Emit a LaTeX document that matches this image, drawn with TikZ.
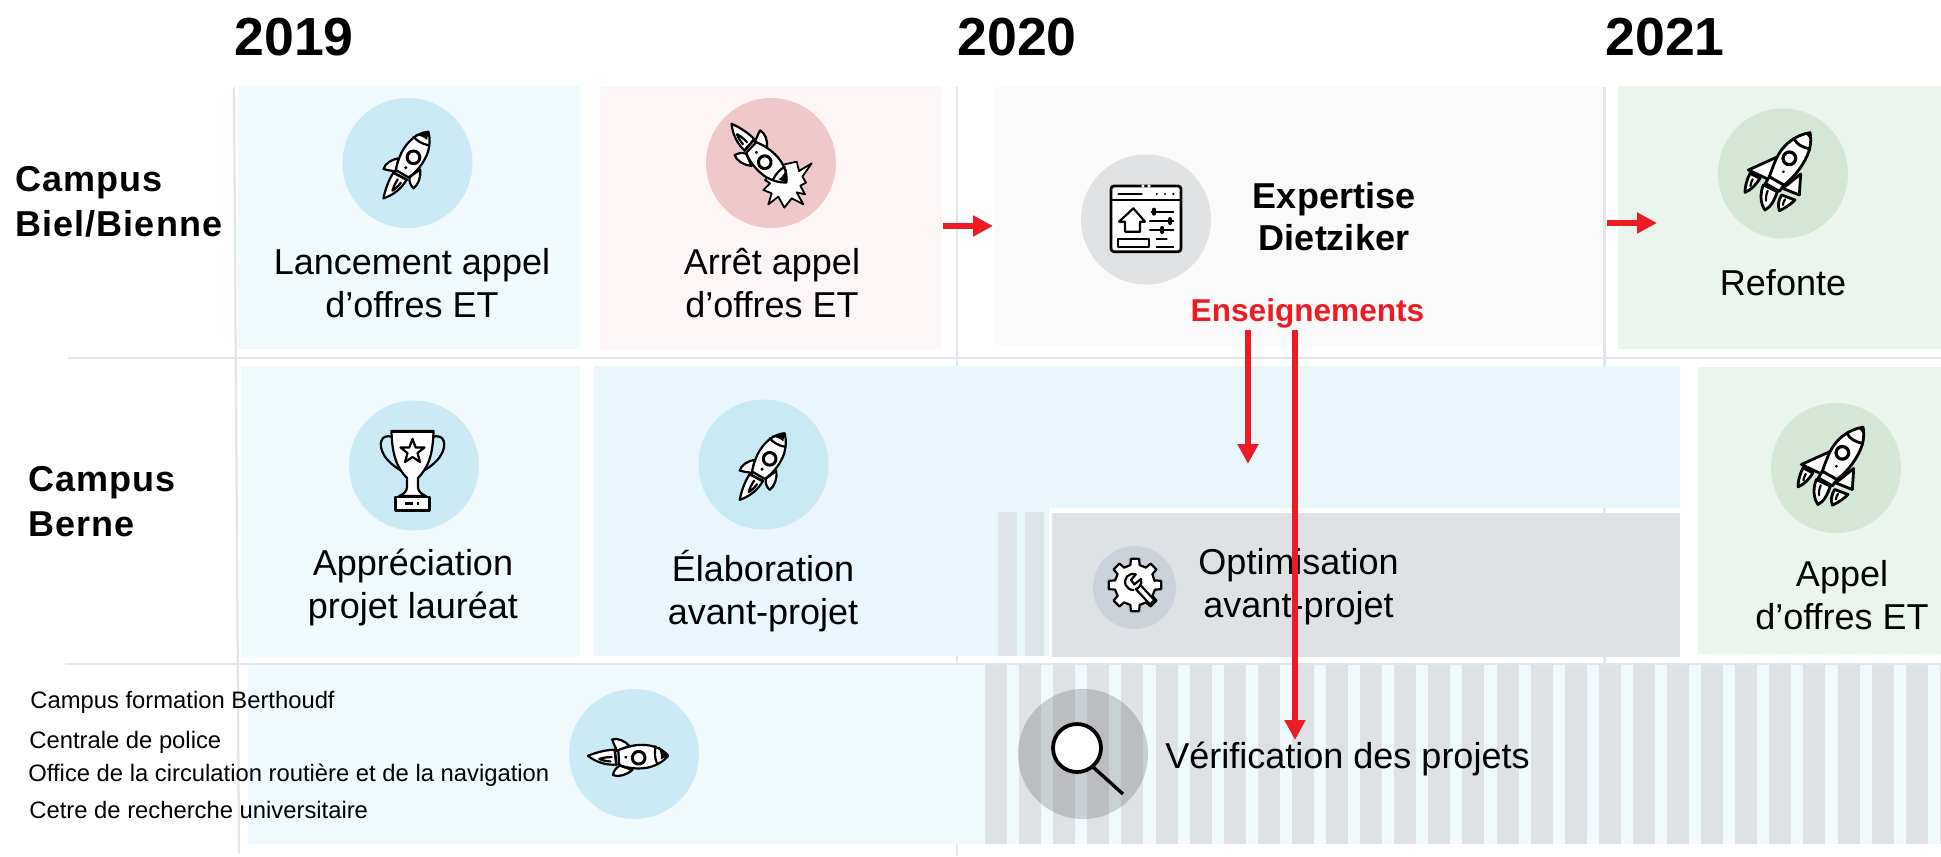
\documentclass[tikz,border=0pt]{standalone}
\usepackage{fontspec}
\setmainfont{Liberation Sans}
\newfontfamily\spacedfont[LetterSpace=3]{Liberation Sans}
\usetikzlibrary{arrows.meta}
\definecolor{gridc}{HTML}{E3E5E8}
\definecolor{boxblue}{HTML}{F0F9FC}
\definecolor{boxblueb}{HTML}{E9F6FC}
\definecolor{boxpink}{HTML}{FCF6F7}
\definecolor{boxlight}{HTML}{FAFAFA}
\definecolor{boxgreen}{HTML}{ECF4EE}
\definecolor{boxgrey}{HTML}{DFE2E5}
\definecolor{stripeb}{HTML}{DFE4E8}
\definecolor{cblue}{HTML}{CCEAF6}
\definecolor{cblueb}{HTML}{C9E9F5}
\definecolor{cpink}{HTML}{EFC8CC}
\definecolor{cgrey}{HTML}{E0E2E4}
\definecolor{cgreen}{HTML}{D4E6D6}
\definecolor{copt}{HTML}{CCD2D9}
\definecolor{redc}{HTML}{ED1C24}
\tikzset{
  x=0.5pt,y=-0.5pt,
  gridline/.style={draw=gridc,line width=1.15pt},
  iconcirc/.style={circle,inner sep=0pt,minimum size=65pt},
  label18/.style={font=\fontsize{18}{21.4}\selectfont,align=center,inner sep=0pt,anchor=base},
  labelb/.style={font=\fontsize{18}{21}\selectfont\bfseries,align=center,inner sep=0pt,anchor=base},
  sidelabel/.style={font=\fontsize{18}{22.5}\selectfont\spacedfont\bfseries,align=left,inner sep=0pt,anchor=base west},
  yearlabel/.style={font=\fontsize{26.8}{30}\selectfont\bfseries,inner sep=0pt,anchor=base west},
  smalllabel/.style={font=\fontsize{11.9}{14}\selectfont,inner sep=0pt,anchor=base west},
  redarrow/.style={draw=redc,line width=3.1pt,-{Triangle[length=10pt,width=10pt]}},
  ink/.style={draw=black,line width=1.1pt,line join=round,line cap=round},
  inkfill/.style={ink,fill=white},
  inkb/.style={draw=black,line width=1.4pt,line join=round,line cap=round},
  inkbfill/.style={inkb,fill=white},
  pics/rocketA/.style={code={
    \begin{scope}[shift={(-122,-135)}]
      % fins
      \draw[inkfill] (100,115) .. controls (80,118) and (60,130) .. (55,147) .. controls (70,152) and (85,152) .. (92,155) -- cycle;
      \draw[inkfill] (165,148) .. controls (168,170) and (160,195) .. (145,205) .. controls (135,195) and (132,185) .. (133,172) -- cycle;
      % flame
      \draw[inkfill] (85,158) .. controls (70,180) and (60,210) .. (55,235) .. controls (85,225) and (110,205) .. (125,178) -- cycle;
      \draw[ink] (98,178) .. controls (90,190) and (85,200) .. (82,212) .. controls (92,205) and (100,198) .. (107,188);
      % body
      \draw[inkfill] (190,35) .. controls (155,38) and (125,65) .. (108,100) .. controls (100,118) and (95,135) .. (92,150) -- (130,172) .. controls (150,160) and (172,135) .. (185,105) .. controls (195,80) and (195,55) .. (190,35) -- cycle;
      \fill[black] (190,35) -- (150,43) .. controls (165,48) and (180,52) .. (186,60) -- cycle;
      \draw[ink] (145,50) .. controls (155,62) and (170,72) .. (191,76);
      \draw[ink,line width=1.5pt] (145,112) circle[radius=19];
      \fill[black] (122,143) circle[radius=5];
      \draw[ink] (84,158) -- (125,180);
    \end{scope}
  }},
  pics/rocketB/.style={code={
    % side fins
    \draw[inkbfill] (118,108) -- (25,150) -- (85,178) -- cycle;
    \draw[inkbfill] (182,162) -- (178,225) -- (128,205) -- cycle;
    % flames
    \draw[inkbfill] (30,160) .. controls (20,180) and (15,200) .. (15,217) .. controls (35,210) and (50,190) .. (60,175) -- cycle;
    \draw[ink] (38,178) .. controls (34,186) and (32,192) .. (31,198);
    \draw[inkbfill] (70,195) .. controls (60,220) and (60,250) .. (75,270) .. controls (95,260) and (105,235) .. (112,215) -- cycle;
    \draw[ink] (83,212) .. controls (78,225) and (77,235) .. (78,242);
    \draw[inkbfill] (125,225) .. controls (115,240) and (113,255) .. (118,272) .. controls (140,262) and (155,250) .. (165,240) -- cycle;
    \draw[ink] (135,238) .. controls (130,245) and (129,250) .. (129,255);
    % band
    \draw[inkbfill] (88,170) -- (132,195) -- (118,214) -- (76,190) -- cycle;
    % body
    \draw[inkbfill] (210,38) .. controls (165,45) and (125,75) .. (105,125) .. controls (98,142) and (92,158) .. (88,170) -- (132,195) .. controls (165,170) and (195,130) .. (208,90) .. controls (213,70) and (213,52) .. (210,38) -- cycle;
    \fill[black] (210,38) -- (196,41) -- (212,58) -- cycle;
    \draw[inkb] (163,58) .. controls (170,72) and (185,82) .. (208,86);
    \draw[inkb,line width=1.6pt] (148,115) circle[radius=19];
    \fill[black] (130,155) circle[radius=4.5];
  }}
}
\begin{document}
\begin{tikzpicture}
\useasboundingbox (0,0) rectangle (1941,856);
% grid lines
\draw[gridline] (234,87) -- (239,853);
\draw[gridline] (957,87) -- (957,856);
\draw[gridline] (1604.5,87) -- (1604.5,664);
\draw[gridline] (68,358) -- (1941,358);
\draw[gridline] (65,664) -- (1941,664);
% row 1 boxes
\fill[boxblue] (238,86) rectangle (581,349);
\fill[boxpink] (600,86) rectangle (942,349);
\fill[boxlight] (994,87) rectangle (1603,345);
\fill[boxgreen] (1618,86) rectangle (1941,349);
% row 2 boxes
\fill[boxblue] (241,366) rectangle (580,657);
\fill[boxblueb] (594,366) rectangle (1680,508);
\fill[boxblueb] (594,508) rectangle (1049,656);
\fill[stripeb] (998,512) rectangle (1017,656);
\fill[stripeb] (1025,512) rectangle (1044,656);
\fill[boxgrey] (1052,513) rectangle (1680,657);
\fill[boxgreen] (1698,367) rectangle (1941,654);
% row 3 boxes
\fill[boxblue] (248,665) rectangle (1941,844);
\foreach \k in {0,...,28} { \fill[boxgrey] ({985+34.1*\k},665) rectangle ({min(1941,1007+34.1*\k)},844); }
% circles
\node[iconcirc,fill=cblue] (c1) at (407.5,163) {};
\node[iconcirc,fill=cpink] (c2) at (771,163) {};
\node[iconcirc,fill=cgrey] (c3) at (1146,219.5) {};
\node[iconcirc,fill=cgreen] (c4) at (1783,173.5) {};
\node[iconcirc,fill=cblue] (c5) at (414,465.5) {};
\node[iconcirc,fill=cblueb] (c6) at (763.5,464.5) {};
\node[circle,inner sep=0pt,minimum size=41.5pt,fill=copt] (c7) at (1134.5,587.5) {};
\node[iconcirc,fill=cgreen] (c8) at (1836,468) {};
\node[iconcirc,fill=cblue] (c9) at (634,754) {};
\node[iconcirc,fill=black,fill opacity=.16] (c10) at (1083,754) {};
% rockets
\pic[scale=1/3] at (405.8,165) {rocketA};
\pic[scale=1/3] at (762,466.5) {rocketA};
\pic[scale=1/3,rotate=-56] at (628,755.7) {rocketA};
\pic[scale=1/3] at (1740,120) {rocketB};
\pic[scale=1/3] at (1793,414.5) {rocketB};
% explosion + falling rocket
\begin{scope}[shift={(725,115)},scale=1/3]
  \draw[inkfill,line width=.9pt] (215,140) -- (222,168) -- (260,145) -- (232,185) -- (243,203) -- (226,212) -- (240,238) -- (215,232) -- (235,268) -- (200,250) -- (178,278) -- (160,245) -- (130,268) -- (140,235) -- (115,225) -- (135,205) -- (120,195) -- (170,150) -- cycle;
\end{scope}
\pic[scale=1/3,rotate=-103] at (759,153) {rocketA};
% trophy
\draw[ink] (393,437) .. controls (380,433) and (378,445) .. (384,455) .. controls (388,462) and (394,466) .. (400,470);
\draw[ink] (432,437) .. controls (445,433) and (447,445) .. (441,455) .. controls (437,462) and (431,466) .. (425,470);
\draw[inkfill] (391.5,431) -- (433.5,431) .. controls (433,455) and (428,468) .. (418,478) -- (418,487) .. controls (418,491) and (421,494) .. (426,496) -- (399,496) .. controls (404,494) and (407,491) .. (407,487) -- (407,478) .. controls (397,468) and (392,455) .. (391.5,431) -- cycle;
\draw[inkfill] (395.5,497) rectangle (429.5,510.5);
\fill[black] (405,502) rectangle (413,505);
\fill[black] (417,502) rectangle (419,505);
\draw[ink] (412.5,439) -- (415.7,447.5) -- (424.5,447.5) -- (417.5,453) -- (420,462) -- (412.5,457) -- (405,462) -- (407.5,453) -- (400.5,447.5) -- (409.3,447.5) -- cycle;
\draw[black,line width=1.5pt] (391.5,431) -- (433.5,431);
% window icon
\begin{scope}[shift={(1105,180)},scale=1/3]
  \draw[ink,fill=white,line width=1.4pt,rounded corners=1.5pt] (18,18) rectangle (228,215);
  \draw[ink] (18,60) -- (228,60);
  \draw[ink] (40,42) -- (110,42);
  \fill[black] (155,42) circle[radius=3.5] (180,42) circle[radius=3.5] (205,42) circle[radius=3.5];
  \fill[white] (110,14) rectangle (118,22) (128,14) rectangle (136,22);
  \draw[ink] (60,155) -- (60,125) -- (42,125) -- (85,85) -- (120,125) -- (105,125) -- (105,155) -- cycle;
  \draw[ink] (140,95) -- (205,95);
  \draw[ink] (135,123) -- (205,123);
  \draw[ink] (135,150) -- (205,150);
  \draw[ink,line width=2pt] (147,89) -- (147,101);
  \draw[ink,line width=2pt] (195,117) -- (195,129);
  \draw[ink,line width=2pt] (172,144) -- (172,156);
  \draw[ink] (40,178) rectangle (133,202);
  \draw[ink] (155,178) -- (185,178);
  \draw[ink] (155,201) -- (205,201);
\end{scope}
% gear icon
\begin{scope}[shift={(1135,585)}]
  \draw[inkfill] (-12:20) \foreach \i in {0,...,7} { -- ({\i*45-13}:20.5) -- ({\i*45-9}:26.5) -- ({\i*45+9}:26.5) -- ({\i*45+13}:20.5) } -- cycle;
\end{scope}
\begin{scope}[shift={(1095,545)},scale=1/3]
  \draw[ink,line width=1.1pt] (122,88) .. controls (100,82) and (85,100) .. (92,120) .. controls (96,128) and (104,135) .. (115,135);
  \draw[ink] (122,88) -- (108,105) -- (118,118) -- (138,102) .. controls (142,118) and (132,130) .. (122,132) -- (165,178) -- (178,165) -- (138,122);
\end{scope}
% magnifier
\draw[black,line width=1.9pt,fill=white] (1077,748) circle[radius=24];
\draw[black,line width=1.7pt] (1093,767) -- (1123,794);
% texts
\node[yearlabel] (y19) at (234,55.5) {2019};
\node[yearlabel] (y20) at (957,55.5) {2020};
\node[yearlabel] (y21) at (1605,55.5) {2021};
\node[sidelabel] (campa) at (15,236) {Campus\\Biel/Bienne};
\node[sidelabel] (campb) at (28,536) {Campus\\Berne};
\node[label18] (t1) at (412,317) {Lancement appel\\d’offres ET};
\node[label18] (t2) at (772,317) {Arrêt appel\\d’offres ET};
\node[labelb] (t3) at (1334,250) {Expertise\\Dietziker};
\node[label18] (t4) at (1783,295) {Refonte};
\node[label18] (t5) at (413,618.5) {Appréciation\\projet lauréat};
\node[label18] (t6) at (763,624) {Élaboration\\avant-projet};
\node[label18] (t7) at (1298.5,617.5) {Optimisation\\avant-projet};
\node[label18] (t8) at (1842,629) {Appel\\d’offres ET};
\node[label18,anchor=base west] (t9) at (1165,768) {Vérification des projets};
\node[smalllabel] (s1) at (30,708) {Campus formation Berthoudf};
\node[smalllabel] (s2) at (29,748) {Centrale de police};
\node[smalllabel] (s3) at (28,781) {Office de la circulation routière et de la navigation};
\node[smalllabel] (s4) at (29,818.5) {Cetre de recherche universitaire};
\node[font=\fontsize{15.8}{18}\selectfont\bfseries,text=redc,inner sep=0pt,anchor=base] (ens) at (1307.5,321) {Enseignements};
% red arrows
\coordinate (a1s) at (943,226); \coordinate (a1e) at (993,226);
\coordinate (a2s) at (1607,223); \coordinate (a2e) at (1657,223);
\coordinate (a3s) at (1248,330); \coordinate (a3e) at (1248,464);
\coordinate (a4s) at (1295,330); \coordinate (a4e) at (1295,740);
\draw[redarrow] (a1s) -- (a1e);
\draw[redarrow] (a2s) -- (a2e);
\draw[redarrow] (a3s) -- (a3e);
\draw[redarrow] (a4s) -- (a4e);
\end{tikzpicture}
\end{document}
